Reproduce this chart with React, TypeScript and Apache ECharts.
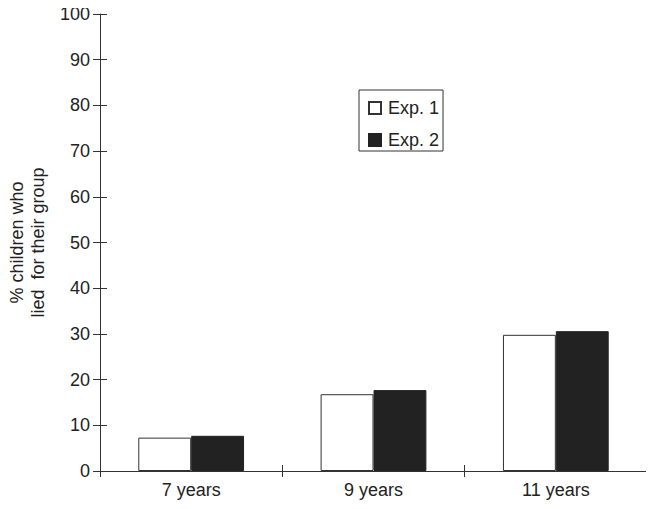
import React, { useEffect, useRef } from "react";
import * as echarts from "echarts";

const categories = ["7 years", "9 years", "11 years"];
const exp1 = [7.3, 16.8, 29.8];
const exp2 = [7.7, 17.7, 30.6];
const seriesNames = ["Exp. 1", "Exp. 2"];
const yTitle = "% children who\nlied  for their group";

export default function App() {
  const ref = useRef<HTMLDivElement>(null);
  useEffect(() => {
    const chart = echarts.init(ref.current!, null, { renderer: "svg" });
    const font = "'Liberation Sans', Arial, Helvetica, sans-serif";
    const lineColor = "#333";
    chart.setOption({
      animation: false,
      textStyle: { fontFamily: font },
      grid: { left: 100, right: 7, top: 14, bottom: 38, containLabel: false, outerBoundsMode: "none" },
      legend: {
        orient: "vertical",
        left: 359,
        top: 90,
        data: seriesNames,
        itemWidth: 12,
        itemHeight: 12,
        itemGap: 14,
        padding: [9, 4, 2, 9],
        borderColor: lineColor,
        borderWidth: 1,
        icon: "rect",
        textStyle: { fontFamily: font, fontSize: 18, color: "#222", padding: [0, 0, 0, 2] },
      },
      xAxis: [
        {
          type: "category",
          data: categories,
          position: "bottom",
          axisLine: { show: true, lineStyle: { color: lineColor, width: 1 } },
          axisTick: { show: true, inside: false, length: 6, lineStyle: { color: lineColor } },
          axisLabel: { color: "#222", fontSize: 18, margin: 10, fontFamily: font },
        },
        {
          type: "category",
          data: categories,
          position: "bottom",
          axisLine: { show: false },
          axisTick: { show: true, inside: true, length: 6, lineStyle: { color: lineColor } },
          axisLabel: { show: false },
        },
      ],
      yAxis: [
        {
          type: "value",
          min: 0,
          max: 100,
          interval: 10,
          name: yTitle,
          nameLocation: "middle",
          nameGap: 52,
          nameTextStyle: { fontSize: 18, color: "#222", lineHeight: 21, fontFamily: font },
          axisLine: { show: true, lineStyle: { color: lineColor, width: 1 } },
          axisTick: { show: true, inside: false, length: 7, lineStyle: { color: lineColor } },
          axisLabel: { color: "#222", fontSize: 18, margin: 10, fontFamily: font },
          splitLine: { show: false },
        },
        {
          type: "value",
          min: 0,
          max: 100,
          interval: 10,
          position: "left",
          axisLine: { show: false },
          axisTick: { show: true, inside: true, length: 7, lineStyle: { color: lineColor } },
          axisLabel: { show: false },
          splitLine: { show: false },
        },
      ],
      series: [
        {
          name: seriesNames[0],
          type: "bar",
          data: exp1,
          barGap: "0%",
          barCategoryGap: "42%",
          itemStyle: { color: "#fff", borderColor: lineColor, borderWidth: 1 },
        },
        {
          name: seriesNames[1],
          type: "bar",
          data: exp2,
          barGap: "0%",
          barCategoryGap: "42%",
          itemStyle: { color: "#222", borderColor: "#222", borderWidth: 1 },
        },
      ],
    });
    return () => chart.dispose();
  }, []);
  return <div ref={ref} style={{ width: 654, height: 509, margin: -8 }} />;
}
